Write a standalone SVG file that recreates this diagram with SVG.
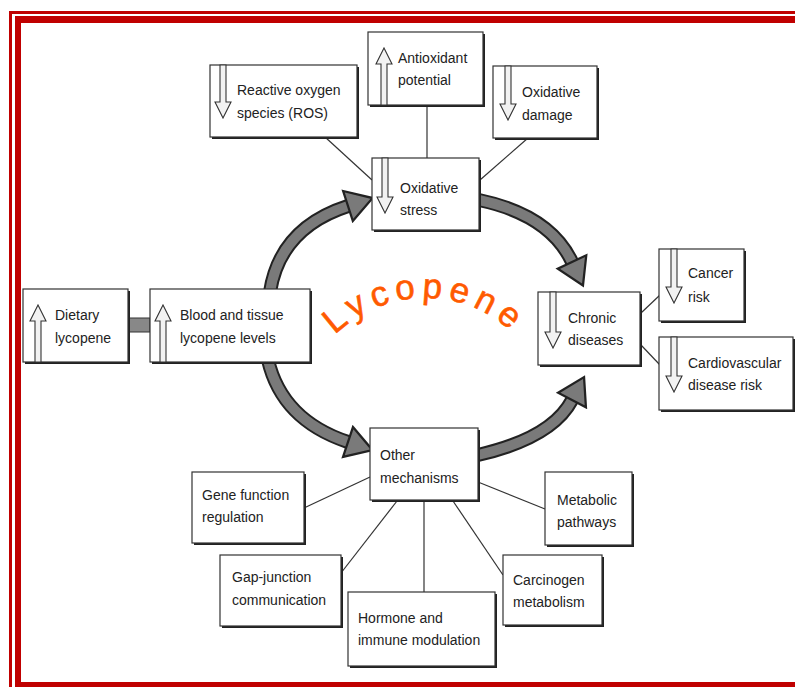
<svg xmlns="http://www.w3.org/2000/svg" width="795" height="687" viewBox="0 0 795 687">
<style>
.bx{fill:#fff;stroke:#333;stroke-width:1.2}
.sh{fill:#222}
.t{font-family:"Liberation Sans",Arial,sans-serif;font-size:14px;fill:#222}
.ln{stroke:#333;stroke-width:1.2;fill:none}
.ar{fill:#f2f2f2;stroke:#333;stroke-width:1.1}
.cvo{fill:none;stroke:#222;stroke-width:14}
.cvi{fill:none;stroke:#7a7a7a;stroke-width:10}
.red{fill:#C00000}
</style>
<defs>
<marker id="head" markerUnits="userSpaceOnUse" markerWidth="36" markerHeight="36" viewBox="-2 -2 32 32" refX="2" refY="14" orient="auto">
<path d="M2,0 L25,14 L2,28 Z" fill="#7a7a7a" stroke="#222" stroke-width="2"/>
</marker>
</defs>
<rect width="795" height="687" fill="#fff"/>
<g id="border">
<rect class="red" x="9" y="11" width="3" height="676"/>
<rect class="red" x="9" y="11" width="786" height="3"/>
<rect class="red" x="15" y="16" width="6" height="671"/>
<rect class="red" x="15" y="16" width="780" height="7"/>
<rect class="red" x="15" y="682" width="780" height="5"/>
</g>
<g id="connectors">
<path class="cvo" d="M270,292 Q280,228 348,206"/>
<path class="cvi" d="M270,292 Q280,228 348,206" marker-end="url(#head)"/>
<path class="cvo" d="M479,200 Q550,215 572,262"/>
<path class="cvi" d="M479,200 Q550,215 572,262" marker-end="url(#head)"/>
<path class="cvo" d="M268,360 Q282,420 348,442"/>
<path class="cvi" d="M268,360 Q282,420 348,442" marker-end="url(#head)"/>
<path class="cvo" d="M478,455 Q552,438 572,400"/>
<path class="cvi" d="M478,455 Q552,438 572,400" marker-end="url(#head)"/>
<rect x="128" y="318" width="22" height="14" fill="#888" stroke="#333" stroke-width="1"/>
<line class="ln" x1="325" y1="137" x2="372" y2="180"/>
<line class="ln" x1="427" y1="105" x2="427" y2="158"/>
<line class="ln" x1="528" y1="138" x2="480" y2="180"/>
<line class="ln" x1="641" y1="313" x2="660" y2="295"/>
<line class="ln" x1="641" y1="345" x2="660" y2="365"/>
<line class="ln" x1="304" y1="508" x2="370" y2="477"/>
<line class="ln" x1="478" y1="482" x2="545" y2="509"/>
<line class="ln" x1="341" y1="573" x2="397" y2="501"/>
<line class="ln" x1="424" y1="500" x2="424" y2="592"/>
<line class="ln" x1="453" y1="501" x2="503" y2="575"/>
</g>
<g id="ros">
<rect class="sh" x="212" y="67" width="147" height="72"/>
<rect class="bx" x="210" y="65" width="147" height="72"/>
<path class="ar" d="M220,65 L226,65 L226,102 L231,102 L223,118 L215,102 L220,102 Z"/>
<text class="t" x="237" y="95">Reactive oxygen</text>
<text class="t" x="237" y="118">species (ROS)</text>
</g>
<g id="antioxidant">
<rect class="sh" x="370" y="34" width="115" height="73"/>
<rect class="bx" x="368" y="32" width="115" height="73"/>
<path class="ar" d="M381,105 L387,105 L387,64 L392,64 L384,48 L376,64 L381,64 Z"/>
<text class="t" x="398" y="63">Antioxidant</text>
<text class="t" x="398" y="85">potential</text>
</g>
<g id="damage">
<rect class="sh" x="495" y="68" width="104" height="72"/>
<rect class="bx" x="493" y="66" width="104" height="72"/>
<path class="ar" d="M505,66 L511,66 L511,104 L516,104 L508,120 L500,104 L505,104 Z"/>
<text class="t" x="522" y="97">Oxidative</text>
<text class="t" x="522" y="120">damage</text>
</g>
<g id="stress">
<rect class="sh" x="374" y="160" width="107" height="72"/>
<rect class="bx" x="372" y="158" width="107" height="72"/>
<path class="ar" d="M382,158 L388,158 L388,197 L393,197 L385,213 L377,197 L382,197 Z"/>
<text class="t" x="400" y="193">Oxidative</text>
<text class="t" x="400" y="215">stress</text>
</g>
<g id="dietary">
<rect class="sh" x="25" y="291" width="105" height="73"/>
<rect class="bx" x="23" y="289" width="105" height="73"/>
<path class="ar" d="M35,362 L41,362 L41,321 L46,321 L38,305 L30,321 L35,321 Z"/>
<text class="t" x="55" y="320">Dietary</text>
<text class="t" x="55" y="343">lycopene</text>
</g>
<g id="blood">
<rect class="sh" x="152" y="291" width="160" height="73"/>
<rect class="bx" x="150" y="289" width="160" height="73"/>
<path class="ar" d="M160,362 L166,362 L166,321 L171,321 L163,305 L155,321 L160,321 Z"/>
<text class="t" x="180" y="320">Blood and tissue</text>
<text class="t" x="180" y="343">lycopene levels</text>
</g>
<g id="chronic">
<rect class="sh" x="540" y="294" width="102" height="73"/>
<rect class="bx" x="538" y="292" width="102" height="73"/>
<path class="ar" d="M550,292 L556,292 L556,332 L561,332 L553,348 L545,332 L550,332 Z"/>
<text class="t" x="568" y="323">Chronic</text>
<text class="t" x="568" y="345">diseases</text>
</g>
<g id="cancer">
<rect class="sh" x="661" y="251" width="85" height="72"/>
<rect class="bx" x="659" y="249" width="85" height="72"/>
<path class="ar" d="M671,249 L677,249 L677,287 L682,287 L674,303 L666,287 L671,287 Z"/>
<text class="t" x="688" y="278">Cancer</text>
<text class="t" x="688" y="302">risk</text>
</g>
<g id="cardio">
<rect class="sh" x="661" y="339" width="134" height="73"/>
<rect class="bx" x="659" y="337" width="134" height="73"/>
<path class="ar" d="M671,337 L677,337 L677,376 L682,376 L674,392 L666,376 L671,376 Z"/>
<text class="t" x="688" y="368">Cardiovascular</text>
<text class="t" x="688" y="390">disease risk</text>
</g>
<g id="other">
<rect class="sh" x="372" y="430" width="108" height="72"/>
<rect class="bx" x="370" y="428" width="108" height="72"/>
<text class="t" x="380" y="460">Other</text>
<text class="t" x="380" y="483">mechanisms</text>
</g>
<g id="gene">
<rect class="sh" x="194" y="474" width="112" height="71"/>
<rect class="bx" x="192" y="472" width="112" height="71"/>
<text class="t" x="202" y="500">Gene function</text>
<text class="t" x="202" y="522">regulation</text>
</g>
<g id="metabolic">
<rect class="sh" x="547" y="474" width="87" height="73"/>
<rect class="bx" x="545" y="472" width="87" height="73"/>
<text class="t" x="557" y="505">Metabolic</text>
<text class="t" x="557" y="527">pathways</text>
</g>
<g id="gap">
<rect class="sh" x="222" y="557" width="121" height="71"/>
<rect class="bx" x="220" y="555" width="121" height="71"/>
<text class="t" x="232" y="582">Gap-junction</text>
<text class="t" x="232" y="605">communication</text>
</g>
<g id="hormone">
<rect class="sh" x="350" y="594" width="147" height="74"/>
<rect class="bx" x="348" y="592" width="147" height="74"/>
<text class="t" x="358" y="623">Hormone and</text>
<text class="t" x="358" y="645">immune modulation</text>
</g>
<g id="carcinogen">
<rect class="sh" x="505" y="557" width="99" height="70"/>
<rect class="bx" x="503" y="555" width="99" height="70"/>
<text class="t" x="513" y="585">Carcinogen</text>
<text class="t" x="513" y="607">metabolism</text>
</g>
<g id="title">
<path id="arc" d="M335,335 A128,128 0 0 1 515,335" fill="none"/>
<text font-family="'Liberation Sans',Arial,sans-serif" font-size="35" fill="#FF5A00" stroke="#FF5A00" stroke-width="0.6" letter-spacing="6"><textPath href="#arc">Lycopene</textPath></text>
</g>
</svg>
